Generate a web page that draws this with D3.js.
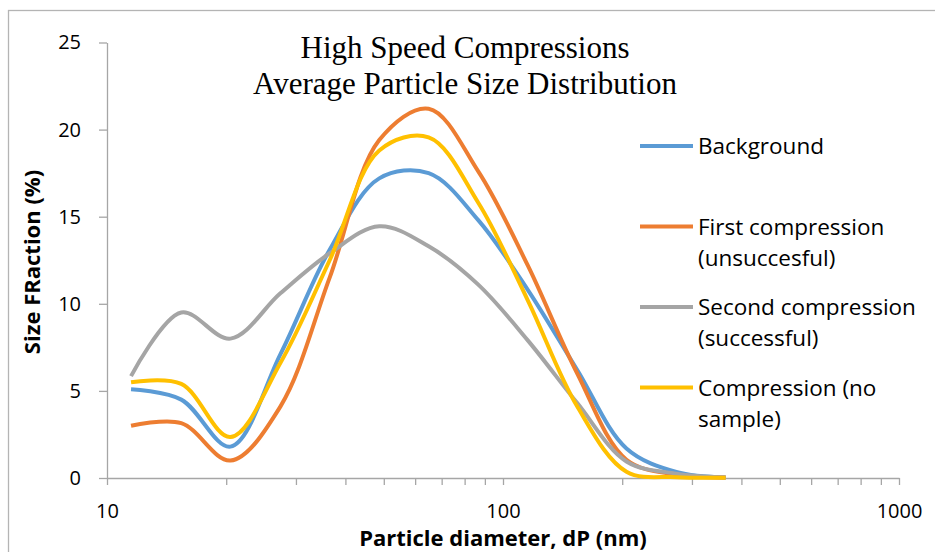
<!DOCTYPE html>
<html lang="en">
<head>
    <meta charset="UTF-8">
    <title>High Speed Compressions</title>
    <script src="https://cdn.jsdelivr.net/npm/d3@7/dist/d3.min.js"></script>
    <style>
        body {
            margin: 0;
            background: #fff;
        }
        svg text {
            font-family: "Open Sans", sans-serif;
            fill: #000;
        }
        .axis path, .axis line {
            stroke: #a6a6a6;
            stroke-width: 1.3;
        }
        .axis text {
            font-size: 20px;
        }
        .series {
            fill: none;
            stroke-width: 4;
        }
    </style>
</head>
<body>
    <svg id="chart" width="935" height="552"></svg>

    <script>
        // data
        const diameters = [11.5, 15.4, 20.5, 27.4, 36.5, 48.7, 64.9, 86.6, 115.5, 154, 205, 274, 365];
        const background = [5.1, 4.5, 1.8, 7.1, 13.1, 17.2, 17.5, 14.8, 10.8, 6.2, 1.7, 0.35, 0.03];
        const firstCompression = [3.0, 3.15, 1.0, 4.1, 11.5, 19.4, 21.2, 17.6, 12.2, 6.0, 1.05, 0.2, 0.03];
        const secondCompression = [5.85, 9.5, 8.0, 10.6, 12.9, 14.45, 13.3, 11.1, 7.9, 4.3, 0.95, 0.25, 0.03];
        const noSample = [5.5, 5.4, 2.35, 6.6, 12.5, 18.8, 19.55, 15.8, 10.2, 4.1, 0.36, 0.05, 0.02];

        const seriesNames = [
            ["Background"],
            ["First compression", "(unsuccesful)"],
            ["Second compression", "(successful)"],
            ["Compression (no", "sample)"]
        ];
        const seriesValues = [background, firstCompression, secondCompression, noSample];
        const colors = ["#5b9bd5", "#ed7d31", "#a5a5a5", "#ffc000"];

        const yTicks = [0, 5, 10, 15, 20, 25];
        const xLabelTicks = [10, 100, 1000];
        const xMinorTicks = [10, 20, 30, 40, 50, 60, 70, 80, 90, 100, 200, 300, 400, 500, 600, 700, 800, 900, 1000];

        const svg = d3.select("#chart");

        // chart border
        svg.append("rect")
            .attr("x", 8.5)
            .attr("y", 10.5)
            .attr("width", 960)
            .attr("height", 600)
            .attr("fill", "none")
            .attr("stroke", "#b4b4b4")
            .attr("stroke-width", 1.3);

        const x = d3.scaleLog().domain([10, 1000]).range([107, 899]);
        const y = d3.scaleLinear().domain([0, 25]).range([478, 42.5]);

        // axes
        svg.append("g")
            .attr("class", "axis")
            .attr("transform", "translate(107,0)")
            .call(d3.axisLeft(y).tickValues(yTicks).tickSize(8).tickSizeOuter(0).tickPadding(18));

        svg.append("g")
            .attr("class", "axis")
            .attr("transform", "translate(0,478)")
            .call(d3.axisBottom(x)
                .tickValues(xMinorTicks)
                .tickSize(7)
                .tickSizeOuter(0)
                .tickPadding(19)
                .tickFormat(d => xLabelTicks.includes(d) ? d : ""));

        // lines
        const line = d3.line()
            .x(d => x(d[0]))
            .y(d => y(d[1]))
            .curve(d3.curveCatmullRom.alpha(0.5));

        seriesValues.forEach((vals, i) => {
            svg.append("path")
                .datum(diameters.map((dp, j) => [dp, vals[j]]))
                .attr("class", "series")
                .attr("stroke", colors[i])
                .attr("d", line);
        });

        // title
        const title = svg.append("text")
            .attr("text-anchor", "middle")
            .style("font-family", "'Liberation Serif', 'Times New Roman', serif")
            .style("font-size", "31px");
        title.append("tspan").attr("x", 465).attr("y", 58).text("High Speed Compressions");
        title.append("tspan").attr("x", 465).attr("y", 94).text("Average Particle Size Distribution");

        // axis titles
        svg.append("text")
            .attr("x", 503)
            .attr("y", 546)
            .attr("text-anchor", "middle")
            .style("font-size", "22px")
            .style("font-weight", "bold")
            .text("Particle diameter, dP (nm)");

        svg.append("text")
            .attr("transform", "translate(40,262) rotate(-90)")
            .attr("text-anchor", "middle")
            .style("font-size", "22px")
            .style("font-weight", "bold")
            .text("Size FRaction (%)");

        // legend
        const legend = svg.append("g");
        seriesNames.forEach((lines, i) => {
            const ly = 146 + i * 80.5;
            legend.append("line")
                .attr("x1", 640).attr("x2", 693)
                .attr("y1", ly).attr("y2", ly)
                .attr("stroke", colors[i])
                .attr("stroke-width", 4);
            const t = legend.append("text")
                .style("font-size", "22.5px");
            lines.forEach((s, k) => {
                t.append("tspan")
                    .attr("x", 698)
                    .attr("y", ly + 8 + k * 31)
                    .text(s);
            });
        });
    </script>
</body>
</html>
